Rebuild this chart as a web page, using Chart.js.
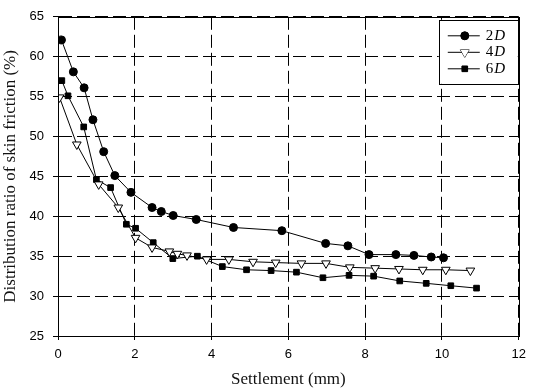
<!DOCTYPE html>
<html>
<head>
<meta charset="utf-8">
<script src="https://cdn.jsdelivr.net/npm/chart.js@4/dist/chart.umd.min.js"></script>
<style>
html,body{margin:0;padding:0;background:#fff;}
#wrap{width:533px;height:390px;}
</style>
</head>
<body>
<div id="wrap"><canvas id="grafik" width="533" height="390"></canvas></div>
<script>
// settlement (mm) and distribution ratio (%)
const settle2D = [0.09,0.40,0.68,0.91,1.19,1.48,1.90,2.45,2.69,3.00,3.60,4.57,5.83,6.97,7.55,8.10,8.80,9.27,9.72,10.04];
const ratio2D  = [62.1,58.1,56.1,52.1,48.1,45.1,43.0,41.1,40.6,40.1,39.6,38.6,38.2,36.6,36.3,35.2,35.2,35.1,34.9,34.8];

const settle4D = [0.04,0.49,1.06,1.57,2.02,2.45,2.90,3.11,3.36,3.87,4.45,5.08,5.67,6.34,6.98,7.60,8.26,8.88,9.50,10.10,10.74];
const ratio4D  = [54.9,49.0,44.0,41.1,37.3,36.1,35.6,35.3,35.1,34.6,34.6,34.3,34.2,34.1,34.1,33.6,33.5,33.4,33.3,33.3,33.2];

const settle6D = [0.10,0.26,0.67,1.00,1.37,1.78,2.02,2.48,2.99,3.63,4.28,4.91,5.55,6.21,6.90,7.58,8.22,8.90,9.59,10.23,10.90];
const ratio6D  = [57.0,55.1,51.2,44.6,43.6,39.0,38.5,36.7,34.7,35.0,33.7,33.3,33.2,33.0,32.3,32.6,32.5,31.9,31.6,31.3,31.0];

const seriesNames = ['2', '4', '6'];
const xTicks = [0,2,4,6,8,10,12];
const yTicks = [25,30,35,40,45,50,55,60,65];

function pts(xs, ys){
  return xs.map((x,i) => ({x:x, y:ys[i]}));
}

const frame = {
  id:'frame',
  afterDraw(chart){
    const c = chart.ctx, a = chart.chartArea;
    c.save();
    c.strokeStyle = '#000';
    c.lineWidth = 1;
    c.setLineDash([]);
    c.strokeRect(Math.round(a.left)+0.5, Math.round(a.top)+0.5,
                 Math.round(a.right-a.left), Math.round(a.bottom-a.top));
    c.restore();
  }
};

const boxLegend = {
  id:'boxLegend',
  afterDraw(chart){
    const c = chart.ctx, a = chart.chartArea;
    const w = 79, h = 64;
    const x0 = a.right - w - 1, y0 = a.top + 3;
    c.save();
    c.fillStyle = '#fff';
    c.fillRect(x0, y0, w, h);
    c.strokeStyle = '#000';
    c.lineWidth = 1;
    c.strokeRect(Math.round(x0)+0.5, Math.round(y0)+0.5, w, h);
    chart.data.datasets.forEach((ds,i) => {
      const yy = y0 + 16 + i*16.5;
      c.beginPath();
      c.moveTo(x0+9, yy);
      c.lineTo(x0+41, yy);
      c.stroke();
      c.fillStyle = ds.pointBackgroundColor;
      c.strokeStyle = '#000';
      Chart.helpers.drawPoint(c, {pointStyle: ds.pointStyle, radius: ds.pointRadius, rotation: ds.pointRotation || 0, borderWidth: 1}, x0+26, yy);
      c.fill();
      c.fillStyle = '#000';
      c.textBaseline = 'middle';
      c.font = '15px "Liberation Serif"';
      c.fillText(seriesNames[i], x0+47, yy);
      const nw = c.measureText(seriesNames[i]).width;
      c.font = 'italic 15px "Liberation Serif"';
      c.fillText('D', x0+47+nw+1, yy);
    });
    c.restore();
  }
};

const ctx = document.getElementById("grafik");

const chart = new Chart(ctx,{
  type:'scatter',
  data:{
    datasets:[{
      label:'2D',
      data:pts(settle2D, ratio2D),
      showLine:true,
      borderColor:'#000',
      borderWidth:1,
      pointStyle:'circle',
      pointRadius:4,
      pointBackgroundColor:'#000',
      pointBorderColor:'#000'
    },{
      label:'4D',
      data:pts(settle4D, ratio4D),
      showLine:true,
      borderColor:'#000',
      borderWidth:1,
      pointStyle:'triangle',
      pointRotation:180,
      pointRadius:5,
      pointBackgroundColor:'#fff',
      pointBorderColor:'#000'
    },{
      label:'6D',
      data:pts(settle6D, ratio6D),
      showLine:true,
      borderColor:'#000',
      borderWidth:1,
      pointStyle:'rect',
      pointRadius:4,
      pointBackgroundColor:'#000',
      pointBorderColor:'#000'
    }]
  },
  options:{
    responsive:false,
    animation:false,
    events:[],
    layout:{padding:{top:14,right:7,left:0,bottom:0}},
    plugins:{legend:{display:false},tooltip:{enabled:false}},
    scales:{
      x:{
        type:'linear',
        min:0,max:12,
        afterBuildTicks(s){ s.ticks = xTicks.map(v => ({value:v})); },
        afterFit(s){ s.height = 54; },
        grid:{color:'#000',lineWidth:1,tickLength:4,tickColor:'#000'},
        border:{display:true,color:'#000',dash:[13,5]},
        ticks:{color:'#000',font:{family:'"Liberation Sans"',size:13},padding:7,maxRotation:0},
        title:{display:true,text:'Settlement (mm)',color:'#111',
               font:{family:'"Liberation Serif"',size:17},padding:{top:3,bottom:0}}
      },
      y:{
        type:'linear',
        min:25,max:65,
        afterBuildTicks(s){ s.ticks = yTicks.map(v => ({value:v})); },
        afterFit(s){ s.width = 58; },
        grid:{color:'#000',lineWidth:1,tickLength:5,tickColor:'#000'},
        border:{display:true,color:'#000',dash:[13,5]},
        ticks:{color:'#000',font:{family:'"Liberation Sans"',size:13},padding:9},
        title:{display:true,text:'Distribution ratio of skin friction (%)',color:'#111',
               font:{family:'"Liberation Serif"',size:17},padding:{top:0,bottom:1}}
      }
    }
  },
  plugins:[frame, boxLegend]
});
</script>
</body>
</html>
